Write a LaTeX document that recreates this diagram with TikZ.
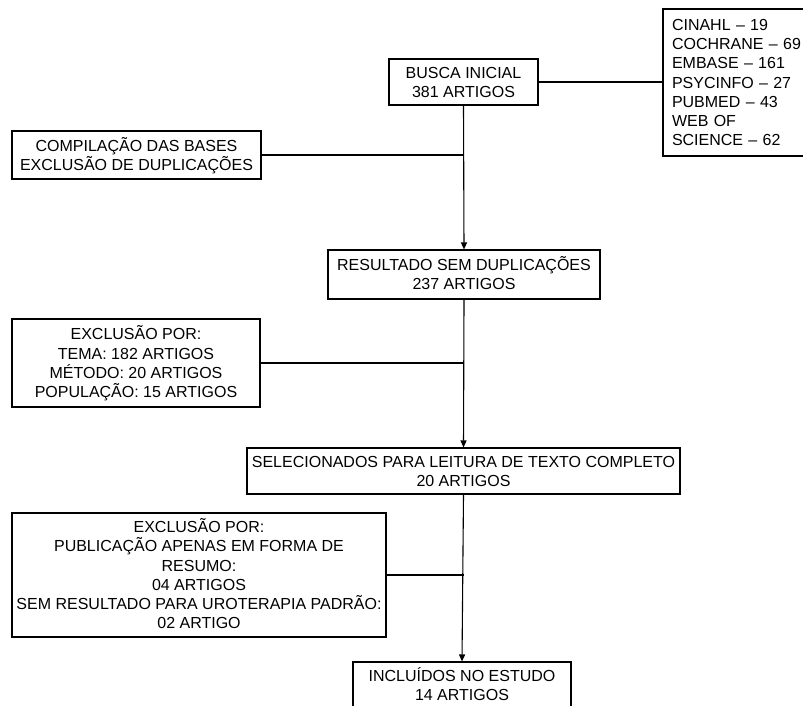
\documentclass[tikz,border=0pt]{standalone}
\usepackage{fontspec}
\setmainfont{Liberation Sans}
\usetikzlibrary{arrows.meta}
\newcommand\Lstr{\rule[-3.9pt]{0pt}{19.2pt}}
\begin{document}
\begin{tikzpicture}[x=1pt,y=-1pt,
  box/.style={draw, line width=1.1pt, inner sep=0pt, align=center,
    font=\fontsize{16}{19.2}\selectfont},
  conn/.style={line width=1.1pt},
  arr/.style={conn, -{Triangle[length=7pt,width=6pt]}}]
\useasboundingbox (0,0) rectangle (803,706);

\node[box, minimum width=149, minimum height=46] (busca) at (463.5,82)
  {\Lstr BUSCA INICIAL\\\Lstr 381 ARTIGOS};
\node[box, minimum width=150, minimum height=147, text width=132, align=left] (bases) at (738,82.5)
  {\Lstr CINAHL – 19\\\Lstr COCHRANE – 69\\\Lstr EMBASE – 161\\\Lstr PSYCINFO – 27\\\Lstr PUBMED – 43\\\Lstr WEB OF\\\Lstr SCIENCE – 62};
\node[box, minimum width=249, minimum height=48] (comp) at (136.5,155)
  {\Lstr COMPILAÇÃO DAS BASES\\\Lstr EXCLUSÃO DE DUPLICAÇÕES};
\node[box, minimum width=272, minimum height=49] (result) at (464,274.5)
  {\Lstr RESULTADO SEM DUPLICAÇÕES\\\Lstr 237 ARTIGOS};
\node[box, minimum width=248, minimum height=88] (ex1) at (136,363)
  {\Lstr EXCLUSÃO POR:\\\Lstr TEMA: 182 ARTIGOS\\\Lstr MÉTODO: 20 ARTIGOS\\\Lstr POPULAÇÃO: 15 ARTIGOS};
\node[box, minimum width=433, minimum height=46] (sel) at (463.5,471)
  {\Lstr SELECIONADOS PARA LEITURA DE TEXTO COMPLETO\\\Lstr 20 ARTIGOS};
\node[box, minimum width=374, minimum height=124] (ex2) at (199,575)
  {\Lstr EXCLUSÃO POR:\\\Lstr PUBLICAÇÃO APENAS EM FORMA DE\\\Lstr RESUMO:\\\Lstr 04 ARTIGOS\\\Lstr SEM RESULTADO PARA UROTERAPIA PADRÃO:\\\Lstr 02 ARTIGO};
\node[box, minimum width=218, minimum height=46] (incl) at (462,685)
  {\Lstr INCLUÍDOS NO ESTUDO\\\Lstr 14 ARTIGOS};

\coordinate (j1) at (busca.south |- comp.east);
\coordinate (j2) at (result.south |- ex1.east);
\coordinate (j3) at (sel.south |- ex2.east);

\draw[conn] (busca.east) -- (bases.west |- busca.east);
\draw[arr] (busca.south) -- (result.north);
\draw[conn] (comp.east) -- (j1);
\draw[arr] (result.south) -- (sel.north);
\draw[conn] (ex1.east) -- (j2);
\draw[arr] (sel.south) -- (incl.north);
\draw[conn] (ex2.east) -- (j3);
\end{tikzpicture}
\end{document}
